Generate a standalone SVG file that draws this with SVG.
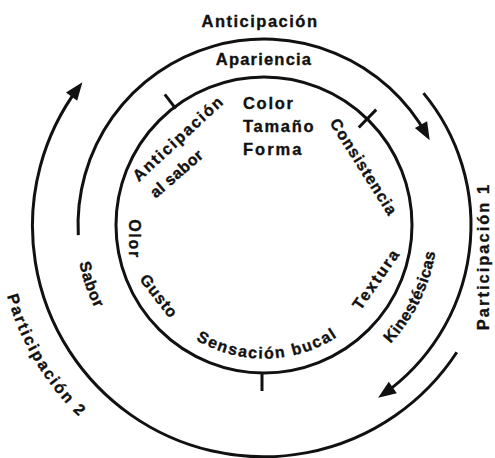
<svg xmlns="http://www.w3.org/2000/svg" width="495" height="458" viewBox="0 0 495 458">
<style>
.t{font-family:"Liberation Sans",Arial,Helvetica,sans-serif;font-weight:bold;font-size:16px;fill:#111;stroke:#111;stroke-width:0.35;}
.big{font-size:16.5px;}
.ring{fill:none;stroke:#111;stroke-width:3;}
.tick{stroke:#111;stroke-width:3;}
</style>
<defs>
<marker id="ah" markerUnits="userSpaceOnUse" markerWidth="24" markerHeight="20" refX="12" refY="8" orient="auto" overflow="visible">
<path d="M0,1 L18,8 L0,15 Z" fill="#111"/>
</marker>
<path id="pSens" d="M133.2,251.8 A133.5,133.5 0 0 0 396.1,244.5" fill="none"/>
<path id="pKin" d="M276.1,398.1 A173.5,173.5 0 0 0 407.8,128.0" fill="none"/>
<path id="pPart2" d="M12.2,137.8 A266.5,266.5 0 0 0 221.8,488.1" fill="none"/>
<path id="pSabor" d="M88.0,157.4 A188.5,188.5 0 0 0 166.9,386.6" fill="none"/>
</defs>
<rect width="495" height="458" fill="#fff"/>

<g id="connectors">
<circle id="inner-circle" class="ring" cx="264" cy="225" r="148"/>
<path id="arc-anticipacion" class="ring" d="M78.3,235.1 A186,186 0 0 1 426.8,135.1" marker-end="url(#ah)"/>
<path id="arc-participacion1" class="ring" d="M423.5,93.1 A207,207 0 0 1 383.0,394.4" marker-end="url(#ah)"/>
<path id="arc-participacion2" class="ring" d="M456.8,352.2 A231,231 0 1 1 78.8,87.0" marker-end="url(#ah)"/>
<line class="tick" x1="175.7" y1="108.7" x2="164.8" y2="94.4"/>
<line class="tick" x1="358.8" y1="127.5" x2="376.2" y2="109.6"/>
<line class="tick" x1="262" y1="372" x2="262" y2="391"/>
</g>

<g id="outer-labels">
<g id="lbl-anticipacion"><text class="t big" x="260" y="27" text-anchor="middle" letter-spacing="1.5">Anticipación</text></g>
<g id="lbl-participacion1"><text class="t big" transform="translate(489,256.5) rotate(-90)" text-anchor="middle" letter-spacing="2">Participación 1</text></g>
<g id="lbl-participacion2"><text class="t" letter-spacing="2"><textPath href="#pPart2" startOffset="50%" text-anchor="middle">Participación 2</textPath></text></g>
</g>

<g id="middle-labels">
<g id="lbl-apariencia"><text class="t big" x="264" y="65" text-anchor="middle" letter-spacing="1.2">Apariencia</text></g>
<g id="lbl-sabor"><text class="t" letter-spacing="0.7"><textPath href="#pSabor" startOffset="50%" text-anchor="middle">Sabor</textPath></text></g>
<g id="lbl-kinestesicas"><text class="t" letter-spacing="0.5"><textPath href="#pKin" startOffset="50%" text-anchor="middle">Kinestésicas</textPath></text></g>
</g>

<g id="inner-labels">
<g id="lbl-color-tamano-forma">
<text class="t big" x="243" y="108.5" letter-spacing="1.7">Color</text>
<text class="t big" x="243" y="131.5" letter-spacing="1.7">Tamaño</text>
<text class="t big" x="243" y="155" letter-spacing="2">Forma</text>
</g>
<g id="lbl-anticipacion-sabor">
<text class="t" transform="translate(182,142.3) rotate(-42.7)" text-anchor="middle" letter-spacing="1.8">Anticipación</text>
<text class="t" transform="translate(180.1,177.7) rotate(-40.9)" text-anchor="middle" letter-spacing="0.4">al sabor</text>
</g>
<g id="lbl-consistencia"><text class="t" transform="translate(359.2,169.9) rotate(57.6)" text-anchor="middle" letter-spacing="1">Consistencia</text></g>
<g id="lbl-olor"><text class="t" transform="translate(128.5,239) rotate(90)" text-anchor="middle" letter-spacing="1.7">Olor</text></g>
<g id="lbl-gusto"><text class="t" transform="translate(154.7,299.5) rotate(52)" text-anchor="middle" letter-spacing="0.9">Gusto</text></g>
<g id="lbl-sensacion"><text class="t" letter-spacing="1.6"><textPath href="#pSens" startOffset="50%" text-anchor="middle">Sensación bucal</textPath></text></g>
<g id="lbl-textura"><text class="t" transform="translate(380.7,282.1) rotate(-55)" text-anchor="middle" letter-spacing="2">Textura</text></g>
</g>
</svg>
